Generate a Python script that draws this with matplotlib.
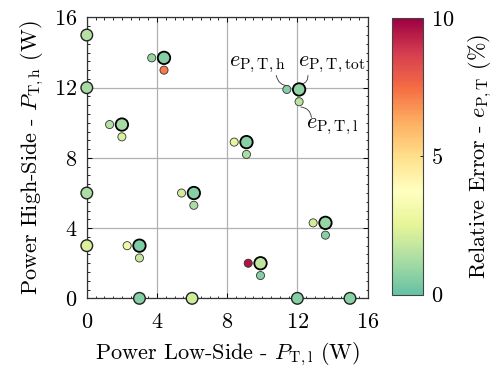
import numpy as np
import matplotlib.pyplot as plt
import matplotlib.ticker as ticker
from matplotlib.colors import ListedColormap

plt.rcParams['font.family'] = 'serif'
plt.rcParams['font.serif'] = ['cmr10']
plt.rcParams['mathtext.fontset'] = 'cm'
plt.rcParams['axes.formatter.use_mathtext'] = True

# operating points on the axes (only one converter loaded)
single_x = [0, 0, 0, 0, 3, 6, 12, 15]
single_y = [15, 12, 6, 3, 0, 0, 0, 0]
single_err = [1.5, 1.2, 1.3, 2.3, 0.6, 2.0, 0.6, 0.7]

# operating points with both sides loaded
tot_x = [4.4, 2.0, 9.1, 6.1, 12.1, 13.6, 3.0, 9.9]
tot_y = [13.7, 9.9, 8.9, 6.0, 11.9, 4.3, 3.0, 2.0]
tot_err = [0.6, 1.2, 0.7, 0.6, 0.8, 0.9, 0.5, 1.7]
h_err = [0.9, 1.5, 2.6, 2.1, 0.6, 2.1, 3.0, 9.6]
l_err = [7.2, 2.3, 1.3, 1.3, 1.6, 0.6, 1.8, 0.6]

cmap = ListedColormap(plt.cm.Spectral_r(np.linspace(0.2, 1.0, 256)))
vmin, vmax = 0, 10
off = 0.7
fs = 16

fig = plt.figure(figsize=(4.96, 3.72), dpi=100)
ax = fig.add_axes([0.175, 0.198, 0.566, 0.755])
cax = fig.add_axes([0.79, 0.208, 0.062, 0.743])

ax.set_xlim(0, 16)
ax.set_ylim(0, 16)
ax.set_xticks([0, 4, 8, 12, 16])
ax.set_yticks([0, 4, 8, 12, 16])
ax.xaxis.set_minor_locator(ticker.MultipleLocator(0.5))
ax.yaxis.set_minor_locator(ticker.MultipleLocator(0.5))
ax.tick_params(which='both', direction='in', top=True, right=True, labelsize=fs)
ax.tick_params(which='major', length=3.5, width=0.7)
ax.tick_params(which='minor', length=1.8, width=0.6)
ax.tick_params(axis='x', which='major', pad=10)
ax.tick_params(axis='y', which='major', pad=7)
ax.grid(True, color='#b0b0b0', lw=0.9)
ax.set_axisbelow(True)
for s in ax.spines.values():
    s.set_color('#333333')
    s.set_linewidth(0.9)

ax.scatter(single_x, single_y, c=single_err, cmap=cmap, vmin=vmin, vmax=vmax,
           s=70, edgecolors='#222222', linewidths=1.0, zorder=5, clip_on=False)
ax.scatter(np.array(tot_x) - off, tot_y, c=h_err, cmap=cmap, vmin=vmin, vmax=vmax,
           s=34, edgecolors='#333333', linewidths=0.6, zorder=4)
ax.scatter(tot_x, np.array(tot_y) - off, c=l_err, cmap=cmap, vmin=vmin, vmax=vmax,
           s=34, edgecolors='#333333', linewidths=0.6, zorder=4)
sc = ax.scatter(tot_x, tot_y, c=tot_err, cmap=cmap, vmin=vmin, vmax=vmax,
                s=80, edgecolors='black', linewidths=1.3, zorder=5)

# labels for one triplet
i = 4
ax.text(9.7, 13.3, r'$e_{\mathrm{P,T,h}}$', fontsize=fs, ha='center', va='center')
ax.text(13.95, 13.3, r'$e_{\mathrm{P,T,tot}}$', fontsize=fs, ha='center', va='center')
ax.text(14.0, 9.8, r'$e_{\mathrm{P,T,l}}$', fontsize=fs, ha='center', va='center')
ap = dict(arrowstyle='-', color='#333333', lw=0.6, shrinkA=0, shrinkB=0)
ax.annotate('', xy=(tot_x[i] - off + 0.1, tot_y[i] + 0.2), xytext=(10.8, 12.7),
            arrowprops=dict(ap, connectionstyle='arc3,rad=0.4'))
ax.annotate('', xy=(tot_x[i] + 0.15, tot_y[i] + 0.3), xytext=(12.6, 12.7),
            arrowprops=dict(ap, connectionstyle='arc3,rad=-0.4'))
ax.annotate('', xy=(tot_x[i] + 0.1, tot_y[i] - off - 0.3), xytext=(12.8, 10.3),
            arrowprops=dict(ap, connectionstyle='arc3,rad=0.4'))

ax.set_xlabel(r'Power Low-Side - $P_{\mathrm{T,l}}$ (W)', fontsize=fs, labelpad=6)
ax.set_ylabel(r'Power High-Side - $P_{\mathrm{T,h}}$ (W)', fontsize=fs, labelpad=6)

cb = fig.colorbar(sc, cax=cax, ticks=[0, 5, 10])
cb.outline.set_edgecolor('#444444')
cb.outline.set_linewidth(0.8)
cax.tick_params(direction='in', length=2, width=0.6, labelsize=fs, pad=6)
cb.set_label(r'Relative Error - $e_{\mathrm{P,T}}$ (%)', fontsize=fs, labelpad=9)

fig.savefig('out.png', dpi=100)
